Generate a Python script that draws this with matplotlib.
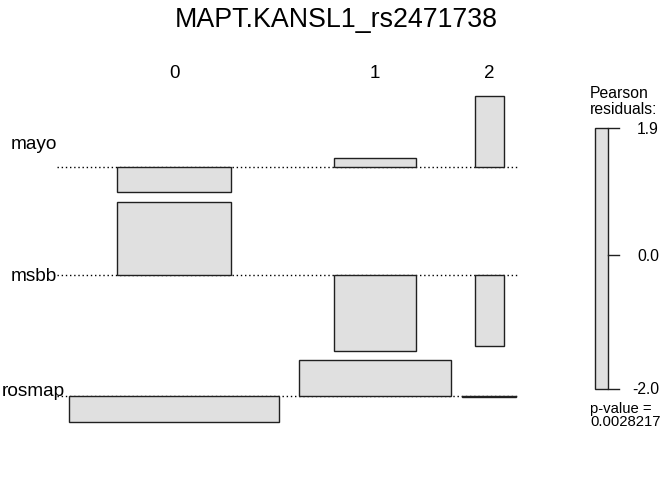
import matplotlib.pyplot as plt
from matplotlib.patches import Rectangle

plt.rcParams["font.family"] = ["Liberation Sans", "DejaVu Sans"]

title = "MAPT.KANSL1_rs2471738"
rows = ["mayo", "msbb", "rosmap"]
cols = ["0", "1", "2"]
# Pearson residuals (row x col)
residuals = [[-0.66, 0.24, 1.87],
             [1.92, -2.00, -1.87],
             [-0.68, 0.95, -0.02]]
# sqrt(expected) cell widths
widths = [[1.14, 0.82, 0.29],
          [1.14, 0.82, 0.29],
          [2.10, 1.52, 0.54]]
legend_ticks = [1.9, 0.0, -2.0]
p_value = "0.0028217"

# layout (pixels)
x_scale, y_scale = 100, 38
col_centers = [174, 375, 489]
top, row_gap = 96, 9.5
line_x0, line_x1 = 57, 517
fill = "#E0E0E0"

fig = plt.figure(figsize=(6.72, 4.8), dpi=100)
ax = fig.add_axes([0, 0, 1, 1])
ax.set_xlim(0, 672)
ax.set_ylim(480, 0)
ax.axis("off")

ax.text(336, 20, title, ha="center", va="center", fontsize=19.3)

for c, lab in zip(col_centers, cols):
    ax.text(c, 74, lab, ha="center", va="center", fontsize=13.5)

y = top
for i, name in enumerate(rows):
    pos = max(max(residuals[i]), 0) * y_scale
    neg = max(-min(residuals[i]), 0) * y_scale
    base = y + pos
    bottom = base + neg
    ax.plot([line_x0, line_x1], [base, base], color="black", lw=1,
            linestyle=(0, (1, 2)), zorder=1)
    ax.text(33.5, (y + bottom) / 2, name, ha="center", va="center", fontsize=13.7)
    for j, c in enumerate(col_centers):
        w = widths[i][j] * x_scale
        h = residuals[i][j] * y_scale
        ax.add_patch(Rectangle((c - w / 2, base), w, -h, facecolor=fill,
                               edgecolor="#202020", lw=1, zorder=2))
    y = bottom + row_gap

# legend
bar_x0, bar_x1 = 595, 608
bar_top, bar_bot = 128, 389
lo, hi = min(legend_ticks), max(legend_ticks)
ax.add_patch(Rectangle((bar_x0, bar_top), bar_x1 - bar_x0, bar_bot - bar_top,
                       facecolor=fill, edgecolor="#202020", lw=1))
for t in legend_ticks:
    ty = bar_top + (hi - t) / (hi - lo) * (bar_bot - bar_top)
    ax.plot([bar_x1, bar_x1 + 11], [ty, ty], color="#202020", lw=1)
    ax.text(659, ty + 1, f"{t:.1f}", ha="right", va="center", fontsize=11.3)

ax.text(590, 94, "Pearson", ha="left", va="center", fontsize=11.3)
ax.text(590, 109, "residuals:", ha="left", va="center", fontsize=11.3)
ax.text(590, 409, "p-value =", ha="left", va="center", fontsize=10.7)
ax.text(590, 422, p_value, ha="left", va="center", fontsize=10.7)

fig.savefig("out.png", dpi=100)
